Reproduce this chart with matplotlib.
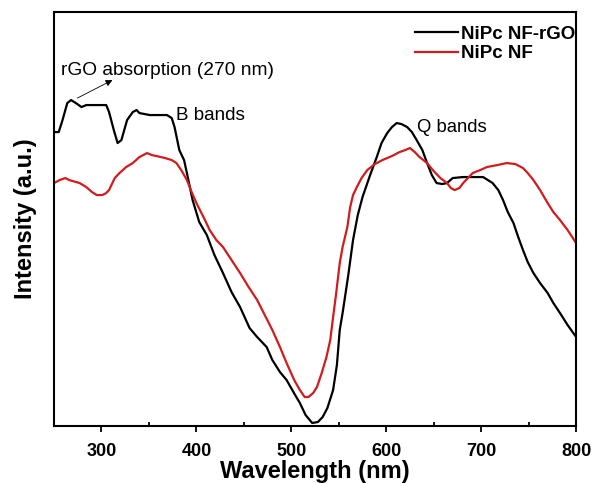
import matplotlib
matplotlib.use("Agg")
import matplotlib.pyplot as plt
from matplotlib.ticker import MultipleLocator, NullLocator

plt.rcParams['font.family'] = ['Liberation Sans', 'DejaVu Sans']

# NiPc NF-rGO (black)
wl_rgo = [250, 255, 259, 264, 268, 273, 279, 284, 298, 305, 308, 313, 317, 321, 327,
          333, 337, 340, 351, 361, 369, 374, 377, 382, 387, 390, 396, 403, 411, 419,
          428, 437, 446, 456, 464, 474, 480, 488, 495, 504, 509, 515, 522, 528, 533,
          538, 544, 548, 551, 554, 560, 565, 570, 575, 583, 590, 595, 601, 606, 611,
          616, 622, 627, 632, 638, 643, 648, 653, 659, 664, 670, 681, 702, 712, 718,
          723, 728, 734, 739, 744, 749, 755, 762, 770, 776, 783, 791, 800]
int_rgo = [294, 294, 306, 323, 326, 323, 319, 321, 321, 321, 314, 296, 283, 286, 306,
           314, 316, 313, 311, 311, 311, 308, 299, 276, 266, 253, 226, 204, 191, 171,
           153, 134, 119, 98, 89, 79, 66, 54, 46, 31, 23, 11, 3, 4, 9,
           18, 36, 61, 96, 113, 151, 186, 211, 229, 251, 269, 283, 293, 299, 303,
           302, 299, 294, 286, 276, 263, 251, 243, 242, 243, 248, 249, 249, 243, 236,
           226, 214, 203, 189, 176, 164, 153, 143, 133, 123, 113, 101, 89]

# NiPc NF (red)
wl_nf = [250, 256, 262, 266, 277, 284, 290, 295, 301, 305, 308, 314, 319, 326, 333,
         340, 348, 353, 358, 367, 374, 379, 384, 390, 395, 400, 408, 414, 421, 428,
         437, 446, 455, 464, 472, 480, 488, 495, 503, 509, 514, 518, 523, 527, 532,
         537, 541, 544, 547, 551, 554, 559, 562, 565, 569, 574, 580, 588, 596, 606,
         614, 620, 625, 630, 635, 643, 649, 657, 664, 668, 672, 677, 681, 686, 691,
         699, 706, 717, 727, 736, 744, 749, 755, 762, 770, 776, 783, 791, 800]
int_nf = [243, 246, 248, 246, 243, 239, 234, 231, 231, 233, 236, 248, 253, 259, 263,
          269, 273, 271, 270, 268, 266, 263, 256, 246, 234, 223, 208, 196, 186, 179,
          166, 153, 139, 126, 111, 96, 79, 63, 46, 36, 29, 29, 33, 39, 53,
          69, 86, 109, 131, 163, 179, 199, 219, 231, 239, 248, 256, 262, 266, 270,
          274, 276, 278, 274, 269, 263, 256, 248, 243, 238, 236, 238, 243, 248, 253,
          256, 259, 261, 263, 262, 258, 253, 246, 236, 223, 214, 206, 196, 183]

x_ticks = [300, 400, 500, 600, 700, 800]
series_labels = ['NiPc NF-rGO', 'NiPc NF']

fig = plt.figure(figsize=(5.92, 4.83), dpi=100)
ax = fig.add_axes([0.0912, 0.118, 0.882, 0.857])

ax.plot(wl_rgo, int_rgo, color='black', lw=1.6, label=series_labels[0])
ax.plot(wl_nf, int_nf, color='#d01c1c', lw=1.6, label=series_labels[1])

ax.set_xlim(250, 800)
ax.set_ylim(0, 414)
ax.set_xticks(x_ticks)
ax.xaxis.set_minor_locator(MultipleLocator(50))
ax.yaxis.set_major_locator(NullLocator())
ax.yaxis.set_minor_locator(NullLocator())
ax.tick_params(axis='x', which='major', direction='out', length=4.5, width=1.3,
               labelsize=13, pad=8)
ax.tick_params(axis='x', which='minor', direction='in', length=3, width=1.3)
for lab in ax.get_xticklabels():
    lab.set_fontweight('bold')
for s in ax.spines.values():
    s.set_linewidth(1.5)

ax.set_xlabel('Wavelength (nm)', fontsize=17, fontweight='bold', labelpad=0)
ax.set_ylabel('Intensity (a.u.)', fontsize=17, fontweight='bold', labelpad=12)

ax.text(257.8, 356, 'rGO absorption (270 nm)', fontsize=13.8, va='center', ha='left')
ax.annotate('', xy=(311.6, 346), xytext=(274.7, 328),
            arrowprops=dict(arrowstyle='-|>', color='black', lw=0.6,
                            mutation_scale=10, shrinkA=0, shrinkB=0))
ax.text(378, 311, 'B bands', fontsize=13.6, va='center', ha='left')
ax.text(632, 299, 'Q bands', fontsize=13.3, va='center', ha='left')

leg = ax.legend(loc='upper right', bbox_to_anchor=(1.019, 0.995), frameon=False,
                prop={'size': 13.5, 'weight': 'bold'}, handlelength=2.3,
                handletextpad=0.15, borderaxespad=0.2, labelspacing=0.15)
for h in leg.get_lines():
    h.set_linewidth(1.6)

fig.savefig('out.png', dpi=100)
